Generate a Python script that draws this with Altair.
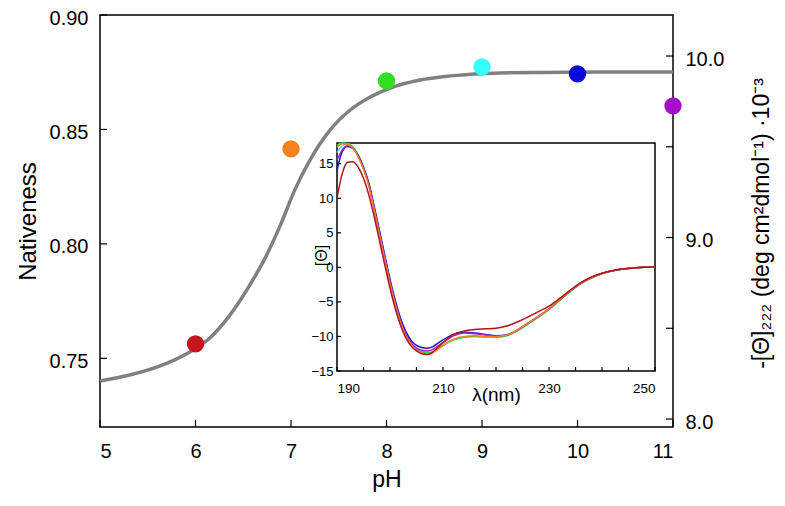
import altair as alt
import pandas as pd

# ---- main panel data ----
ph_points = [6, 7, 8, 9, 10, 11]
nativeness = [0.7563, 0.8415, 0.8712, 0.8773, 0.8743, 0.8603]
point_colors = ["#c4141c", "#f5821f", "#33dd22", "#33ffff", "#0a0ae0", "#a60fc8"]

fit_ph = [5.0, 5.31, 5.63, 5.94, 6.15, 6.36, 6.57, 6.73, 6.89, 7.04, 7.2, 7.41, 7.62,
          7.83, 8.04, 8.35, 8.67, 9.19, 10.24, 11.0]
fit_nat = [0.7401, 0.7427, 0.7467, 0.7528, 0.7589, 0.7689, 0.7821, 0.7939, 0.8083,
           0.8236, 0.8367, 0.8498, 0.8585, 0.8642, 0.8681, 0.8716, 0.8734, 0.8747,
           0.8751, 0.8751]

x_ticks = [5, 6, 7, 8, 9, 10, 11]
left_ticks = [0.75, 0.80, 0.85, 0.90]
right_ticks = [8.0, 8.5, 9.0, 9.5, 10.0]
right_labels = [8.0, 9.0, 10.0]

# ---- inset data (CD spectra) ----
wl = [190, 191, 192, 193, 194, 195, 196, 197, 198, 199, 200, 201, 202, 203, 204, 205,
      206, 207, 208, 209, 210, 212, 214, 216, 218, 220, 222, 224, 226, 228, 230, 232,
      234, 236, 238, 240, 242, 244, 246, 248, 250]
spec_ph9 = [16.6, 17.6, 17.9, 17.5, 16.3, 14.5, 12.1, 8.7, 5.1, 1.5, -2.0, -5.1, -7.7, -9.6,
            -10.9, -11.7, -12.1, -12.3, -12.2, -11.8, -11.3, -10.5, -10.1, -10.0, -10.1,
            -10.1, -9.9, -9.2, -8.2, -7.2, -6.1, -4.8, -3.5, -2.3, -1.5, -0.9, -0.5,
            -0.25, -0.1, 0.0, 0.05]
spec_ph8 = [17.7, 18.0, 17.9, 17.4, 16.2, 14.4, 12.0, 8.6, 5.0, 1.4, -2.1, -5.2, -7.8, -9.7,
            -11.0, -11.8, -12.2, -12.4, -12.3, -11.8, -11.3, -10.5, -10.1, -10.0, -10.1,
            -10.1, -9.9, -9.2, -8.2, -7.2, -6.1, -4.8, -3.5, -2.3, -1.5, -0.9, -0.5,
            -0.25, -0.1, 0.0, 0.05]
spec_ph10 = [14.0, 16.8, 17.5, 17.2, 16.2, 14.5, 12.2, 8.9, 5.4, 1.8, -1.7, -4.8, -7.4, -9.3,
             -10.6, -11.3, -11.6, -11.7, -11.5, -11.0, -10.5, -9.7, -9.4, -9.5, -9.7,
             -9.9, -9.8, -9.1, -8.1, -7.1, -6.0, -4.7, -3.4, -2.3, -1.5, -0.9, -0.5,
             -0.25, -0.1, 0.0, 0.05]
spec_ph11 = [15.5, 17.0, 17.6, 17.3, 16.1, 14.3, 11.9, 8.6, 5.0, 1.4, -2.1, -5.2, -7.8, -9.7,
             -11.0, -11.7, -12.0, -12.1, -11.9, -11.4, -10.9, -9.9, -9.5, -9.6, -9.8,
             -10.0, -9.8, -9.1, -8.1, -7.1, -6.0, -4.7, -3.4, -2.3, -1.5, -0.9, -0.5,
             -0.25, -0.1, 0.0, 0.05]
spec_ph7 = [17.4, 17.9, 17.8, 17.3, 16.0, 14.2, 11.8, 8.4, 4.8, 1.2, -2.3, -5.4, -8.0, -9.9,
            -11.2, -12.0, -12.4, -12.6, -12.4, -11.9, -11.3, -10.4, -10.0, -9.9, -10.0,
            -10.0, -9.8, -9.1, -8.1, -7.1, -6.0, -4.7, -3.4, -2.3, -1.5, -0.9, -0.5,
            -0.25, -0.1, 0.0, 0.05]
spec_ph6 = [10.0, 13.6, 15.2, 15.3, 14.5, 12.9, 10.5, 7.4, 3.9, 0.4, -3.0, -6.0, -8.4, -10.2,
            -11.4, -12.1, -12.5, -12.6, -12.3, -11.6, -10.9, -9.7, -9.2, -9.0, -8.9,
            -8.8, -8.5, -7.9, -7.2, -6.4, -5.6, -4.5, -3.3, -2.2, -1.4, -0.85, -0.5,
            -0.25, -0.1, 0.0, 0.05]
spec_order = ["9", "8", "10", "11", "7", "6"]
spec_series = [spec_ph9, spec_ph8, spec_ph10, spec_ph11, spec_ph7, spec_ph6]
spec_colors = ["#33eeee", "#33dd33", "#1414d0", "#b020c0", "#f5821f", "#b5121b"]

inset_x_ticks = list(range(190, 251, 5))
inset_x_labels = [190, 210, 230, 250]
inset_y_ticks = [-15, -10, -5, 0, 5, 10, 15]

W, H = 573, 412
IN_X = [237, 555]
IN_Y = [356, 128]
FONT = "Liberation Sans"

# ---- frames ----
pts_df = pd.DataFrame({"ph": ph_points, "nat": nativeness, "lab": [str(p) for p in ph_points]})
fit_df = pd.DataFrame({"ph": fit_ph, "nat": fit_nat})
spec_df = pd.DataFrame([
    {"wl": w, "theta": v, "series": s, "ord": i}
    for i, (s, vals) in enumerate(zip(spec_order, spec_series)) for w, v in zip(wl, vals)
])

xs = alt.Scale(domain=[5, 11], nice=False, zero=False)
yl = alt.Scale(domain=[0.72, 0.90], nice=False, zero=False)
yr = alt.Scale(domain=[7.956, 10.226], nice=False, zero=False)
xi = alt.Scale(domain=[190, 250], range=IN_X, nice=False, zero=False)
yi = alt.Scale(domain=[-15, 18], range=IN_Y, nice=False, zero=False)

axis_common = dict(domain=False, ticks=False, grid=False, labelFont=FONT, titleFont=FONT,
                   labelColor="black", titleColor="black", titleFontWeight="normal")

curve = alt.Chart(fit_df).mark_line(color="#808080", strokeWidth=3.5, interpolate="monotone").encode(
    x=alt.X("ph:Q", scale=xs, axis=alt.Axis(values=x_ticks, format="d", labelFontSize=20,
                                             labelPadding=14, title="pH", titleFontSize=23,
                                             titleY=52, titleBaseline="middle", **axis_common)),
    y=alt.Y("nat:Q", scale=yl, axis=alt.Axis(values=left_ticks, format=".2f", labelFontSize=20,
                                              labelPadding=12, labelOffset=3,
                                              title="Nativeness", titleFontSize=24,
                                              titleX=-72, titleAngle=270, titleBaseline="middle",
                                              **axis_common)),
)

points = alt.Chart(pts_df).mark_circle(size=300, opacity=1).encode(
    x=alt.X("ph:Q", scale=xs, axis=None),
    y=alt.Y("nat:Q", scale=yl, axis=None),
    color=alt.Color("lab:N", scale=alt.Scale(domain=[str(p) for p in ph_points], range=point_colors),
                    legend=None),
)

bottom_ticks = alt.Chart(pd.DataFrame({"t": x_ticks})).mark_rule(color="black", strokeWidth=1.2).encode(
    x=alt.X("t:Q", scale=xs, axis=None), y=alt.value(H), y2=alt.value(H - 7))

left_tk = alt.Chart(pd.DataFrame({"t": left_ticks})).mark_rule(color="black", strokeWidth=1.2).encode(
    y=alt.Y("t:Q", scale=yl, axis=None), x=alt.value(0), x2=alt.value(7))

right_tk = alt.Chart(pd.DataFrame({"t": right_ticks})).mark_rule(color="black", strokeWidth=1.2).encode(
    y=alt.Y("t:Q", scale=yr, axis=alt.Axis(orient="right", values=right_labels, format=".1f",
                                            labelFontSize=20, labelPadding=12, labelOffset=3,
                                            title="-[Θ]₂₂₂ (deg cm²dmol⁻¹) ·10⁻³", titleFontSize=23,
                                            titleX=88, titleY=208, titleAngle=270,
                                            titleBaseline="middle", titleAlign="center",
                                            **axis_common)),
    x=alt.value(W), x2=alt.value(W - 7))

inset_box = alt.Chart(pd.DataFrame({"x0": [190], "x1": [250], "y0": [-15], "y1": [18]})).mark_rect(
    fill="white", stroke="black", strokeWidth=1.5).encode(
    x=alt.X("x0:Q", scale=xi, axis=alt.Axis(orient="bottom", offset=IN_Y[0] - H, values=inset_x_labels,
                                             format="d", labelFontSize=13.5, labelPadding=10,
                                             title="λ(nm)", titleFontSize=19, titleY=23,
                                             titleBaseline="middle", **axis_common)),
    x2="x1:Q",
    y=alt.Y("y0:Q", scale=yi, axis=alt.Axis(orient="left", offset=-IN_X[0], values=inset_y_ticks,
                                             format="d", labelFontSize=13, labelPadding=4,
                                             title="[Θ]", titleFontSize=16, titleX=-16, titleY=240,
                                             titleAngle=270, titleBaseline="middle",
                                             titleAlign="center", **axis_common)),
    y2="y1:Q",
)

inset_xt = alt.Chart(pd.DataFrame({"t": inset_x_ticks})).mark_rule(color="black", strokeWidth=1.2).encode(
    x=alt.X("t:Q", scale=xi, axis=None), y=alt.value(IN_Y[0]), y2=alt.value(IN_Y[0] - 4))

inset_yt = alt.Chart(pd.DataFrame({"t": inset_y_ticks})).mark_rule(color="black", strokeWidth=1.2).encode(
    y=alt.Y("t:Q", scale=yi, axis=None), x=alt.value(IN_X[0]), x2=alt.value(IN_X[0] + 4))

spectra = alt.Chart(spec_df).mark_line(strokeWidth=1.5, interpolate="monotone").encode(
    x=alt.X("wl:Q", scale=xi, axis=None),
    y=alt.Y("theta:Q", scale=yi, axis=None),
    color=alt.Color("series:N", scale=alt.Scale(domain=spec_order, range=spec_colors), legend=None),
    order=alt.Order("ord:Q"),
)

chart = alt.layer(curve, points, bottom_ticks, left_tk, right_tk, inset_box, inset_xt, inset_yt,
                  spectra).resolve_scale(x="independent", y="independent", color="independent").properties(
    width=W, height=H,
    padding={"left": 92, "top": 7, "right": 104, "bottom": 71},
    autosize=alt.AutoSizeParams(type="none"),
    background="white",
).configure_view(stroke="black", strokeWidth=1.5)

chart.save("out.html", embed_options={"renderer": "svg", "actions": False})
